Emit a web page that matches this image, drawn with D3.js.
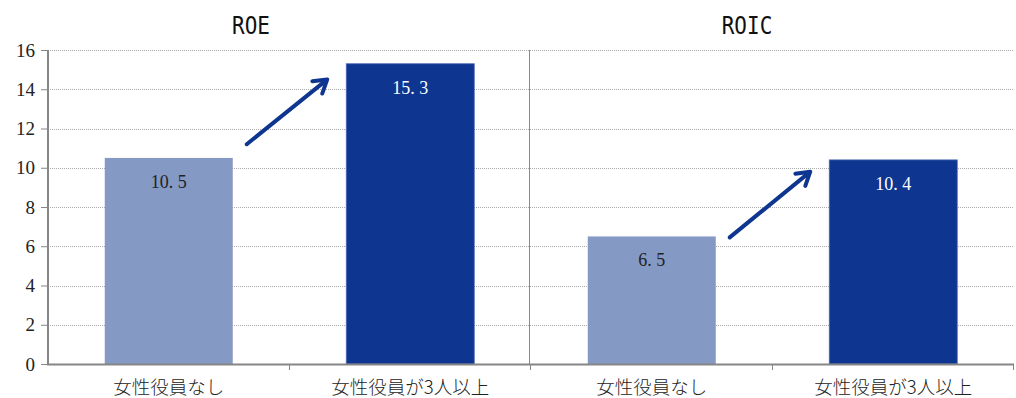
<!DOCTYPE html>
<html>
<head>
<meta charset="utf-8">
<script src="https://cdn.jsdelivr.net/npm/d3@7/dist/d3.min.js"></script>
<style>
  html, body { margin: 0; padding: 0; background: #fff; }
  svg { display: block; }
</style>
</head>
<body>
<svg id="chart" width="1016" height="398"></svg>
<script>
// Panels and categories
const panels = ["ROE", "ROIC"];
const categories = ["女性役員なし", "女性役員が3人以上"];
// Values per panel, in category order
const roeValues = [10.5, 15.3];
const roicValues = [6.5, 10.4];
// Y axis ticks
const yTicks = [0, 2, 4, 6, 8, 10, 12, 14, 16];
// Arrow annotation start/end levels (in axis units), one per panel
const arrowFrom = [11.2, 6.45];
const arrowTo = [14.5, 9.8];

const seriesByPanel = { ROE: roeValues, ROIC: roicValues };
const barColors = ["#8599c5", "#0e3590"];
const labelColors = ["#222", "#fff"];
const arrowColor = "#0e3590";

const svg = d3.select("#chart");
const plotLeft = 48, plotRight = 1014, plotTop = 50, plotBottom = 364;

const y = d3.scaleLinear().domain([0, 16]).range([plotBottom, plotTop]);
const xPanel = d3.scaleBand().domain(panels).range([plotLeft, plotRight]);
const xCat = d3.scaleBand().domain(categories)
  .range([0, xPanel.bandwidth()]).paddingInner(0.47).paddingOuter(0.235);

// Dotted horizontal gridlines
svg.append("g").selectAll("line").data(yTicks.filter(d => d > 0)).join("line")
  .attr("x1", plotLeft).attr("x2", plotRight)
  .attr("y1", d => Math.round(y(d)) + 0.5).attr("y2", d => Math.round(y(d)) + 0.5)
  .attr("stroke", "#ababab").attr("stroke-width", 1).attr("stroke-dasharray", "1,1");

// Divider between panels
svg.append("line")
  .attr("x1", xPanel("ROIC") - 1.5).attr("x2", xPanel("ROIC") - 1.5)
  .attr("y1", plotTop).attr("y2", plotBottom)
  .attr("stroke", "#8a8a8a").attr("stroke-width", 1);

// Bars
panels.forEach(p => {
  const g = svg.append("g").attr("transform", `translate(${xPanel(p)},0)`);
  const vals = seriesByPanel[p];
  g.selectAll("rect").data(vals).join("rect")
    .attr("x", (d, i) => xCat(categories[i]))
    .attr("width", xCat.bandwidth())
    .attr("y", d => y(d))
    .attr("height", d => y(0) - y(d))
    .attr("fill", (d, i) => barColors[i])
    .attr("stroke", (d, i) => i === 1 ? "#4c6cb4" : "none")
    .attr("stroke-width", 0.8);

  g.selectAll("text.val").data(vals).join("text")
    .attr("class", "val")
    .attr("x", (d, i) => xCat(categories[i]) + xCat.bandwidth() / 2)
    .attr("y", d => y(d) + 30)
    .attr("text-anchor", "middle")
    .attr("font-family", "'Liberation Serif', 'DejaVu Serif', serif")
    .attr("font-size", 18)
    .attr("fill", (d, i) => labelColors[i])
    .text(d => d3.format(".1f")(d).replace(".", ". "));
});

// Arrows between the two bars of each panel
panels.forEach((p, k) => {
  const x0 = xPanel(p) + xCat(categories[0]) + xCat.bandwidth() + 14;
  const x1 = xPanel(p) + xCat(categories[1]) - 19;
  const y0 = y(arrowFrom[k]), y1 = y(arrowTo[k]);
  const ang = Math.atan2(y1 - y0, x1 - x0);
  const hl = 15, spread = 0.55;
  const g = svg.append("g").attr("stroke", arrowColor).attr("stroke-width", 4)
    .attr("fill", "none").attr("stroke-linecap", "round").attr("stroke-linejoin", "round");
  g.append("line").attr("x1", x0).attr("y1", y0).attr("x2", x1 - 1.5 * Math.cos(ang)).attr("y2", y1 - 1.5 * Math.sin(ang));
  g.append("path").attr("d", d3.line()([
    [x1 - hl * Math.cos(ang - spread), y1 - hl * Math.sin(ang - spread)],
    [x1, y1],
    [x1 - hl * Math.cos(ang + spread), y1 - hl * Math.sin(ang + spread)]
  ]));
});

// Y axis
const yAxis = svg.append("g").attr("transform", `translate(${plotLeft},0)`)
  .call(d3.axisLeft(y).tickValues(yTicks).tickSize(7).tickPadding(6));
yAxis.select(".domain").attr("stroke", "#868686").attr("stroke-width", 2)
  .attr("d", `M0,${plotTop}V${plotBottom + 1}`);
yAxis.selectAll(".tick line").attr("stroke", "#868686").attr("stroke-width", 1);
yAxis.selectAll(".tick text")
  .attr("font-family", "'Liberation Serif', 'DejaVu Serif', serif")
  .attr("font-size", 19).attr("fill", "#222");

// X axis baseline and tick marks at category boundaries
svg.append("line").attr("x1", plotLeft - 1).attr("x2", plotRight)
  .attr("y1", plotBottom + 0.5).attr("y2", plotBottom + 0.5)
  .attr("stroke", "#868686").attr("stroke-width", 2);
const boundaries = [];
panels.forEach(p => {
  boundaries.push(xPanel(p) + xCat.step());
  boundaries.push(xPanel(p) + xPanel.bandwidth());
});
svg.append("g").selectAll("line").data(boundaries).join("line")
  .attr("x1", d => Math.round(d) - 0.5).attr("x2", d => Math.round(d) - 0.5)
  .attr("y1", plotBottom).attr("y2", plotBottom + 6)
  .attr("stroke", "#868686").attr("stroke-width", 1);

// Category labels
panels.forEach(p => {
  svg.append("g").selectAll("text").data(categories).join("text")
    .attr("x", c => xPanel(p) + xCat(c) + xCat.bandwidth() / 2)
    .attr("y", 394)
    .attr("text-anchor", "middle")
    .attr("font-family", "'Noto Sans CJK JP', sans-serif")
    .attr("font-weight", 300)
    .attr("font-size", 18.5)
    .attr("fill", "#222")
    .text(c => c);
});

// Panel titles
const titleX = { ROE: 251, ROIC: 747 };
svg.append("g").selectAll("text").data(panels).join("text")
  .attr("x", p => titleX[p]).attr("y", 34)
  .attr("text-anchor", "middle")
  .attr("font-family", "'DejaVu Sans Mono', monospace")
  .attr("font-size", 25)
  .attr("fill", "#111")
  .attr("transform", p => `translate(${titleX[p] * 0.16},0) scale(0.84,1)`)
  .text(p => p);
</script>
</body>
</html>
